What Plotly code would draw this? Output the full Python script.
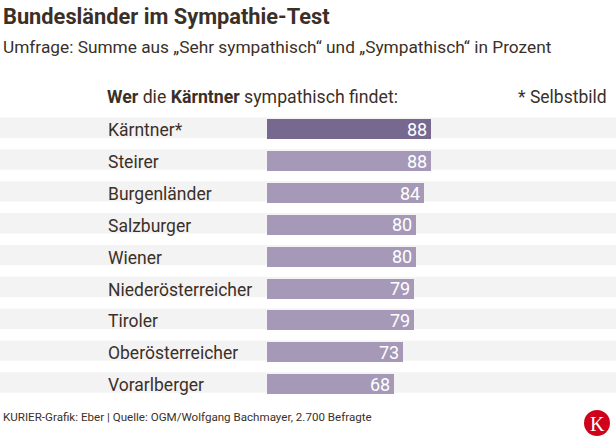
import plotly.graph_objects as go

categories = ["Kärntner*", "Steirer", "Burgenländer", "Salzburger", "Wiener",
              "Niederösterreicher", "Tiroler", "Oberösterreicher", "Vorarlberger"]
values = [88, 88, 84, 80, 80, 79, 79, 73, 68]
highlight = "Kärntner*"

W, H = 616, 443
FONT = "Roboto, sans-serif"
TXT = "#3b3028"
BAR = "#a599b7"
BAR_HI = "#776890"
BAND = "#f3f3f3"

# pixel mapping
x0_px, px_per_unit = 267, 1.864
row0_px, pitch = 129.3, 31.85
xr = [-x0_px / px_per_unit, (W - x0_px) / px_per_unit]
yr = [(H - row0_px) / pitch, -row0_px / pitch]

ys = list(range(len(categories)))
colors = [BAR_HI if c == highlight else BAR for c in categories]

fig = go.Figure()
fig.add_trace(go.Bar(
    x=values, y=ys, orientation="h", width=20 / pitch,
    marker=dict(color=colors, line=dict(width=0)),
    hoverinfo="skip",
))

shapes = []
for y in ys:
    shapes.append(dict(type="rect", xref="paper", yref="y", x0=0, x1=1,
                       y0=y - 0.37, y1=y + 0.27, fillcolor=BAND, line=dict(width=0),
                       layer="below"))

annotations = []
for y, c, v in zip(ys, categories, values):
    annotations.append(dict(x=106 / W, xref="paper", y=y, yref="y", text=c,
                            xanchor="left", yanchor="middle", showarrow=False, yshift=-1,
                            font=dict(family=FONT, size=17.5, color=TXT)))
    annotations.append(dict(x=v, xref="x", y=y, yref="y", text=str(v),
                            xanchor="right", yanchor="middle", xshift=-2, showarrow=False,
                            font=dict(family=FONT, size=18, color="white")))

def pa(x, y, text, size, anchor="left", color=TXT):
    annotations.append(dict(x=x / W, y=1 - y / H, xref="paper", yref="paper", text=text,
                            xanchor=anchor, yanchor="middle", showarrow=False,
                            font=dict(family=FONT, size=size, color=color)))

pa(1, 17, "<b>Bundesländer im Sympathie-Test</b>", 21.8)
pa(1, 47, "Umfrage: Summe aus „Sehr sympathisch“ und „Sympathisch“ in Prozent", 17.3)
pa(105, 97, "<b>Wer</b> die <b>Kärntner</b> sympathisch findet:", 17.7)
pa(609, 97, "* Selbstbild", 17.5, anchor="right")
pa(1, 417, "KURIER-Grafik: Eber | Quelle: OGM/Wolfgang Bachmayer, 2.700 Befragte", 11.6)

# logo
cx, cy, r = 597, 423, 13
shapes.append(dict(type="circle", xref="paper", yref="paper",
                   x0=(cx - r) / W, x1=(cx + r) / W, y0=1 - (cy + r) / H, y1=1 - (cy - r) / H,
                   fillcolor="#d0021b", line=dict(width=0)))
annotations.append(dict(x=cx / W, y=1 - (cy + 1) / H, xref="paper", yref="paper", text="K",
                        xanchor="center", yanchor="middle", showarrow=False,
                        font=dict(family="Liberation Serif, DejaVu Serif, serif", size=20, color="white")))

fig.update_layout(
    width=W, height=H, margin=dict(l=0, r=0, t=0, b=0),
    paper_bgcolor="white", plot_bgcolor="rgba(0,0,0,0)",
    xaxis=dict(range=xr, visible=False, fixedrange=True),
    yaxis=dict(range=yr, visible=False, fixedrange=True),
    shapes=shapes, annotations=annotations, showlegend=False, bargap=0,
)
fig.write_html("out.html", config={"displayModeBar": False},
               post_script="document.body.style.margin='0';document.body.style.overflow='hidden';")
